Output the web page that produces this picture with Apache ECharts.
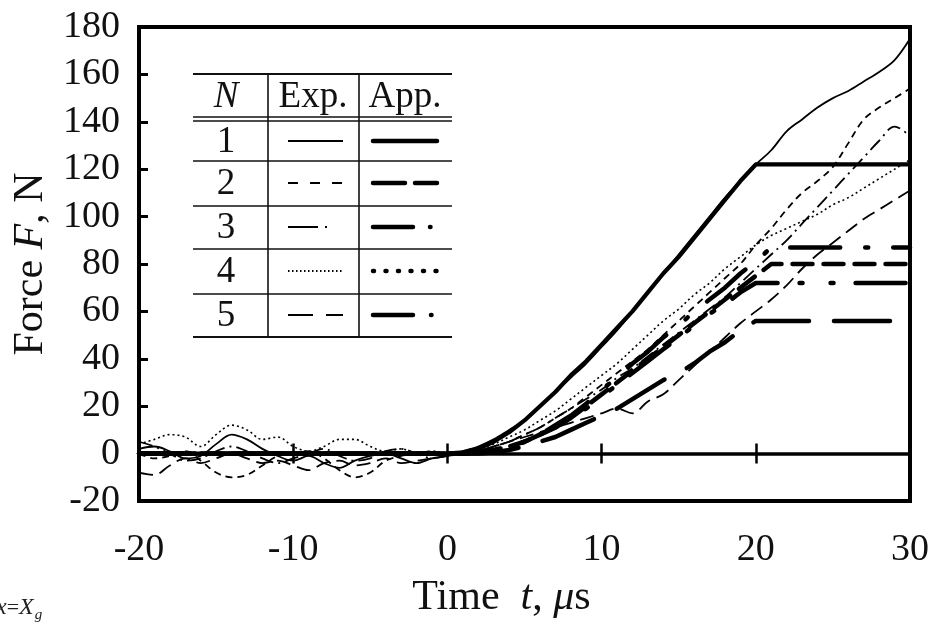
<!DOCTYPE html>
<html>
<head>
<meta charset="utf-8">
<script src="https://cdn.jsdelivr.net/npm/echarts@6/dist/echarts.min.js"></script>
<style>html,body{margin:0;padding:0;background:#fff;}#c{width:932px;height:628px;}</style>
</head>
<body>
<div id="c"></div>
<script>
// ---- data ----
const time = [-20,-19,-18,-17,-16,-15,-14,-13,-12,-11,-10,-9,-8,-7,-6,-5,-4,-3,-2,-1,
  0,1,2,3,4,5,6,7,8,9,10,11,12,13,14,15,16,17,18,19,20,21,22,23,24,25,26,27,28,29,30];
const exp1 = [2,3,1,-2,-1,4,8,6,2,-1,-3,-1,-4,-6,-3,-1,0,-2,-4,-2,
  -1,1,3,6,10,14,20,26,32,38,45,52,60,68,76,84,92,100,108,115,122,128,136,141,146,150,153,157,161,166,175];
const exp2 = [0,-2,-1,1,-3,-8,-10,-9,-5,-1,0,1,-2,-7,-10,-8,-3,-1,0,1,
  0,0,1,3,5,8,11,15,19,24,29,34,39,44,50,56,62,68,74,80,88,95,103,110,115,121,131,141,146,150,154];
const exp3 = [5,3,0,-3,-2,1,3,1,-2,-4,-2,0,2,-1,-3,-2,1,2,0,-2,
  -1,0,1,3,5,8,11,15,19,23,27,32,36,41,46,51,56,61,66,72,78,84,90,97,104,111,118,125,132,138,134];
const exp4 = [4,6,8,7,3,8,12,10,6,7,3,1,3,6,6,3,1,2,0,1,
  0,1,2,4,7,10,14,18,23,28,33,38,44,50,56,61,67,72,78,83,88,92,95,98,101,105,108,112,116,120,124];
const exp5 = [-8,-9,-5,-2,-4,-2,0,-2,-4,-3,-5,-7,-4,-3,-5,-4,-2,-4,-3,-2,
  -1,0,1,3,5,7,9,11,13,15,17,19,17,22,25,31,37,43,49,55,60,65,71,78,84,89,94,99,103,107,111];

const appTime = [-20,0,1,2,3,4,5,6,7,8,9,10,11,12,13,14,15,16,17,18,19,20,21,30];
const app1 = [0,0,0.5,2,5,9,14,20,26,33,39,46,53,60,68,76,83,91,99,107,115,122,122,122];
const app2 = [0,0,0,0.5,1.5,3,5,8,11,15,20,25,30,35,40,45,50,55,60,65,70,75,80,80];
const app3 = [0,0,0,0.5,1.5,3,5,8,11,15,19,24,29,34,39,44,49,54,59,63,68,72,72,72];
const app4 = [0,0,0,0.5,1.5,3,5,8,12,16,21,27,32,38,43,49,54,60,65,70,76,81,87,87];
const app5 = [0,0,0,0,0.5,1.5,3,5,7,10,13,16,19,23,27,31,34,38,43,47,52,56,56,56];

const xTicks = [-20,-10,0,10,20,30];
const yTicks = [-20,0,20,40,60,80,100,120,140,160,180];
const legendRows = ['1','2','3','4','5'];

// ---- styles ----
const FONT = '"Liberation Serif","Times New Roman",serif';
const expStyles = [
  {type:'solid', width:1.8},
  {type:[7,5], width:1.8},
  {type:[14,5,2,5], width:1.8},
  {type:[2,3], width:1.6},
  {type:[14,7], width:1.8}
];
const appStyles = [
  {type:'solid', width:4.2},
  {type:[20,11], width:4.5},
  {type:[50,22,3,28,3,22], width:4.5},
  {type:[50,25,3,25], width:4.5},
  {type:[56,25], width:4.5}
];
const expData = [exp1,exp2,exp3,exp4,exp5];
const appData = [app1,app2,app3,app4,app5];

const series = [];
expData.forEach((arr,k)=>{
  series.push({
    name:'Exp '+(k+1), type:'line', xAxisIndex:0, yAxisIndex:0,
    data: time.map((t,i)=>[t,arr[i]]), smooth:0.35, symbol:'none',
    lineStyle:{color:'#000', width:expStyles[k].width, type:expStyles[k].type, cap:'butt'},
    clip:true, z:3
  });
});
appData.forEach((arr,k)=>{
  series.push({
    name:'App '+(k+1), type:'line', xAxisIndex:0, yAxisIndex:0,
    data: appTime.map((t,i)=>[t,arr[i]]), smooth:false, symbol:'none',
    lineStyle:{color:'#000', width:appStyles[k].width, type:appStyles[k].type, cap:'round', join:'round'},
    clip:true, z:4
  });
});

// ---- legend table (graphics) ----
const tblL = 193, tblR = 452, colA = 268, colB = 359;
const rowY = [141,183,227,271,315];
const g = [];
function hline(y,w){ g.push({type:'line', shape:{x1:tblL,y1:y,x2:tblR,y2:y}, style:{stroke:'#111', lineWidth:w}, z:10}); }
function vline(x){ g.push({type:'line', shape:{x1:x,y1:74,x2:x,y2:337}, style:{stroke:'#111', lineWidth:1.6}, z:10}); }
hline(74,2); hline(117,1.5); hline(121,1.5); hline(161,1.5); hline(206,1.5); hline(249,1.5); hline(294,1.5); hline(337,2);
vline(colA); vline(colB);
function txt(s,x,y,italic){ g.push({type:'text', x:x, y:y, style:{text:s, fontFamily:FONT, fontSize:37, fontStyle: italic?'italic':'normal', fill:'#111', align:'center', verticalAlign:'middle'}, z:10}); }
txt('N',226,97,true); txt('Exp.',313,97,false); txt('App.',405,97,false);
const expLeg = [[], [10,12], [30,7,2,40], [1.5,2.5], [25,13]];
const appLeg = [[], [32,10], [40,17,0.5,40], [1,11.5], [40,18,0.5,40]];
legendRows.forEach((r,i)=>{
  txt(r,226,rowY[i]+1,false);
  g.push({type:'line', shape:{x1:288,y1:rowY[i],x2:343,y2:rowY[i]}, style:{stroke:'#000', lineWidth:2, lineDash:expLeg[i].length?expLeg[i]:null, lineCap:'butt'}, z:10});
  g.push({type:'line', shape:{x1:373,y1:rowY[i],x2:437,y2:rowY[i]}, style:{stroke:'#000', lineWidth:4.5, lineDash:appLeg[i].length?appLeg[i]:null, lineCap:'round'}, z:10});
});
// bottom-left fragment "x = X_g"
g.push({type:'text', left:-4, top:596, style:{text:'{i|x}{n|=}{i|X}{s|g}', fontFamily:FONT, fill:'#222',
  rich:{i:{fontStyle:'italic', fontSize:24, fontFamily:FONT}, n:{fontSize:22, fontFamily:FONT}, s:{fontStyle:'italic', fontSize:15, fontFamily:FONT, verticalAlign:'bottom', padding:[14,0,0,1]}}}, z:10});

const chart = echarts.init(document.getElementById('c'), null, {renderer:'canvas'});
const axisBase = {type:'value', min:-20, max:30, interval:10};
const titleRich = {n:{fontFamily:FONT, fontSize:42, color:'#111'}, i:{fontFamily:FONT, fontSize:42, fontStyle:'italic', color:'#111'}};
chart.setOption({
  animation:false,
  backgroundColor:'#fff',
  grid:{left:139, right:21, top:27, bottom:127, show:true, borderColor:'#000', borderWidth:4, backgroundColor:'transparent'},
  xAxis:[
    Object.assign({}, axisBase, {position:'bottom',
      axisLine:{show:false, onZero:false}, axisTick:{show:false}, splitLine:{show:false},
      axisLabel:{fontFamily:FONT, fontSize:38, color:'#111', margin:30,
        formatter:v=> xTicks.indexOf(v)>=0 ? String(v) : ''},
      name:'{n|Time  }{i|t}{n|, }{i|μ}{n|s}', nameLocation:'middle', nameGap:76,
      nameTextStyle:{fontFamily:FONT, fontSize:42, color:'#111', padding:[0,46,0,0], rich:titleRich}
    }),
    Object.assign({}, axisBase, {position:'bottom',
      axisLine:{show:true, onZero:true, onZeroAxisIndex:0, lineStyle:{color:'#000', width:3.5}},
      axisTick:{show:true, inside:true, length:10, lineStyle:{color:'#000', width:2.5}},
      axisLabel:{show:false}, splitLine:{show:false}
    }),
    Object.assign({}, axisBase, {position:'bottom',
      axisLine:{show:false, onZero:true, onZeroAxisIndex:0},
      axisTick:{show:true, inside:false, length:10, lineStyle:{color:'#000', width:2.5}},
      axisLabel:{show:false}, splitLine:{show:false}
    })
  ],
  yAxis:[{type:'value', min:-20, max:180, interval:20, position:'left',
    axisLine:{show:false, onZero:false}, axisTick:{show:true, inside:true, length:9, lineStyle:{color:'#000', width:3}},
    splitLine:{show:false},
    axisLabel:{fontFamily:FONT, fontSize:38, color:'#111', margin:19,
      formatter:v=> yTicks.indexOf(v)>=0 ? String(v) : ''},
    name:'{n|Force }{i|F}{n|, N}', nameLocation:'middle', nameGap:78, nameRotate:90,
    nameTextStyle:{fontFamily:FONT, fontSize:42, color:'#111', rich:titleRich}
  }],
  series: series,
  graphic: g
});
</script>
</body>
</html>
